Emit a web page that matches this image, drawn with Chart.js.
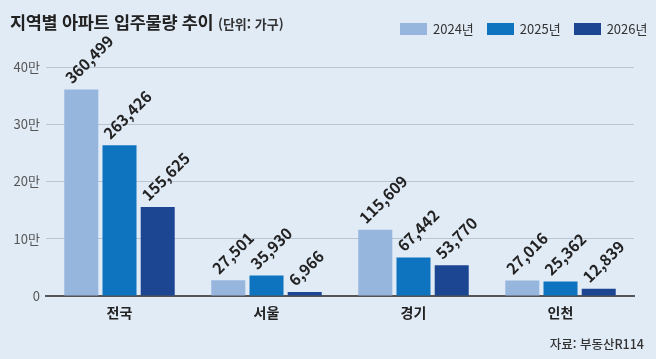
<!DOCTYPE html>
<html lang="ko">
<head>
<meta charset="utf-8">
<script src="https://cdn.jsdelivr.net/npm/chart.js@4"></script>
<style>
    html, body { margin: 0; padding: 0; }
    body {
        width: 656px;
        height: 359px;
        background: #e1ebf6;
        font-family: "Noto Sans CJK KR", "Noto Sans", sans-serif;
        position: relative;
        overflow: hidden;
    }
    #chartWrap { position: absolute; left: 0; top: 0; width: 656px; height: 359px; }
    .title {
        position: absolute; left: 10px; top: 9px;
        font-size: 17.5px; font-weight: 700; color: #222;
        letter-spacing: -0.3px; white-space: nowrap;
    }
    .title small { font-size: 13px; font-weight: 700; color: #333; letter-spacing: 0; }
    .legend { position: absolute; top: 19px; left: 400px; display: flex; font-size: 13px; color: #333; }
    .legend span { display: flex; align-items: center; margin-right: 13px; white-space: nowrap; }
    .legend i { display: inline-block; width: 27px; height: 12px; margin-right: 6px; }
    .source {
        position: absolute; right: 12px; top: 334px;
        font-size: 12.5px; font-weight: 500; color: #333; white-space: nowrap;
    }
</style>
</head>
<body>
<div id="chartWrap"><canvas id="moveInChart" width="656" height="359"></canvas></div>
<div class="title">지역별 아파트 입주물량 추이 <small>(단위: 가구)</small></div>
<div class="legend" id="legend"></div>
<div class="source">자료: 부동산R114</div>

<script>
const regions = ['전국', '서울', '경기', '인천'];
const seriesNames = ['2024년', '2025년', '2026년'];
const values2024 = [360499, 27501, 115609, 27016];
const values2025 = [263426, 35930, 67442, 25362];
const values2026 = [155625, 6966, 53770, 12839];
const yTickValues = [0, 100000, 200000, 300000, 400000];

const seriesColors = ['#97b6de', '#0f74c0', '#1c4692'];

// legend in html
const legendEl = document.getElementById('legend');
seriesNames.forEach((name, i) => {
    const item = document.createElement('span');
    item.innerHTML = '<i style="background:' + seriesColors[i] + '"></i>' + name;
    legendEl.appendChild(item);
});

// rotated value labels above each bar
const barLabels = {
    id: 'barLabels',
    afterDatasetsDraw(chart) {
        const ctx = chart.ctx;
        ctx.save();
        ctx.font = '700 15.5px "Noto Sans CJK KR", "Noto Sans", sans-serif';
        ctx.fillStyle = '#222';
        ctx.textAlign = 'left';
        ctx.textBaseline = 'alphabetic';
        chart.data.datasets.forEach((ds, di) => {
            const meta = chart.getDatasetMeta(di);
            meta.data.forEach((bar, i) => {
                const text = ds.data[i].toLocaleString('en-US');
                ctx.save();
                ctx.translate(bar.x - 9, bar.y - 5);
                ctx.rotate(-Math.PI / 4);
                ctx.fillText(text, 0, 0);
                ctx.restore();
            });
        });
        ctx.restore();
    }
};

const ctx = document.getElementById('moveInChart').getContext('2d');
const moveInChart = new Chart(ctx, {
    type: 'bar',
    data: {
        labels: regions,
        datasets: [values2024, values2025, values2026].map((vals, i) => ({
            label: seriesNames[i],
            data: vals,
            backgroundColor: seriesColors[i],
            categoryPercentage: 0.78,
            barPercentage: 0.89
        }))
    },
    options: {
        responsive: false,
        animation: false,
        layout: { padding: { top: 67, left: 0, right: 22, bottom: 33 } },
        plugins: {
            legend: { display: false },
            tooltip: { enabled: false }
        },
        scales: {
            x: {
                grid: { display: false },
                border: { color: '#555', width: 2 },
                ticks: {
                    color: '#222',
                    padding: 0,
                    font: { family: '"Noto Sans CJK KR", sans-serif', size: 14, weight: '700' }
                },
                afterFit: scale => { scale.height = 30; }
            },
            y: {
                min: 0,
                max: 400000,
                afterBuildTicks: scale => {
                    scale.ticks = yTickValues.map(v => ({ value: v }));
                },
                grid: { color: '#b9c5d3', lineWidth: 1, drawTicks: false },
                border: { display: false },
                ticks: {
                    color: '#555',
                    padding: 6,
                    font: { family: '"Noto Sans CJK KR", sans-serif', size: 13 },
                    callback: value => value === 0 ? '0' : (value / 10000) + '만'
                },
                afterFit: scale => { scale.width = 46; }
            }
        }
    },
    plugins: [barLabels]
});
</script>
</body>
</html>
